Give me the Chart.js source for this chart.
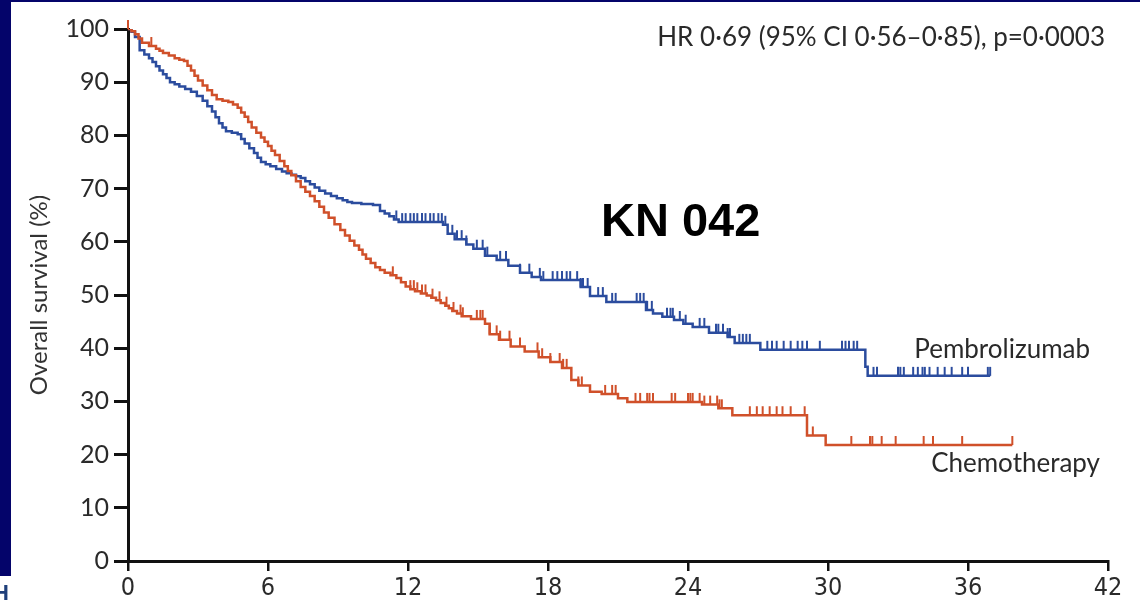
<!DOCTYPE html>
<html>
<head>
<meta charset="utf-8">
<script src="https://cdn.jsdelivr.net/npm/chart.js@4.4.1/dist/chart.umd.min.js"></script>
<style>
  html, body { margin: 0; padding: 0; background: #fff; }
  #wrap { width: 1140px; height: 613px; position: relative; }
</style>
</head>
<body>
<div id="wrap"><canvas id="kmChart"></canvas></div>
<script>
// Kaplan-Meier steps, months vs overall survival (%)
const pembroMonths = [0, 0.15, 0.3, 0.5, 0.7, 0.9, 1.05, 1.2, 1.35, 1.5, 1.65, 1.8, 2.0, 2.2, 2.45, 2.7, 2.95, 3.2, 3.4, 3.6, 3.75, 3.9, 4.05, 4.2, 4.45, 4.7, 4.85, 5.0, 5.2, 5.4, 5.55, 5.7, 5.9, 6.1, 6.35, 6.6, 6.8, 7.0, 7.2, 7.4, 7.6, 7.8, 8.0, 8.2, 8.45, 8.7, 8.95, 9.2, 9.4, 9.6, 10.0, 10.5, 10.8, 11.0, 11.2, 11.4, 11.6, 13.5, 13.7, 14.0, 14.5, 14.8, 15.3, 15.8, 16.3, 16.8, 17.3, 17.7, 19.4, 19.8, 20.5, 22.2, 22.5, 22.9, 23.4, 23.8, 24.2, 24.9, 25.7, 26.0, 27.1, 31.6, 31.7, 36.95];
const pembroSurv   = [100, 99.5, 98.5, 96, 95.2, 94.5, 93.8, 93, 92.2, 91.5, 90.8, 90, 89.6, 89.2, 88.7, 88.2, 87.4, 86.5, 85.5, 84.5, 83.4, 82.3, 81.5, 80.8, 80.5, 80.2, 79.3, 78.5, 77.6, 76.7, 75.8, 75, 74.6, 74.2, 73.7, 73.2, 72.9, 72.6, 72.3, 72.0, 71.4, 70.8, 70.2, 69.6, 69.1, 68.6, 68.2, 67.8, 67.5, 67.3, 67.1, 66.9, 65.8, 65.3, 64.8, 64.2, 63.7, 63.2, 61.5, 60.5, 59.5, 58.7, 57.4, 56.6, 55.5, 54.2, 53.4, 52.8, 51.5, 49.8, 48.7, 47.2, 46.5, 45.9, 45.3, 44.6, 44.0, 42.9, 42.1, 41.0, 39.7, 36.5, 34.8, 34.8];

const chemoMonths = [0, 0.15, 0.3, 0.45, 0.6, 0.9, 1.2, 1.35, 1.5, 1.75, 2.0, 2.2, 2.4, 2.55, 2.7, 2.85, 3.0, 3.2, 3.4, 3.6, 3.8, 4.05, 4.3, 4.5, 4.7, 4.85, 5.0, 5.15, 5.3, 5.5, 5.7, 5.85, 6.0, 6.15, 6.3, 6.5, 6.7, 6.85, 7.0, 7.2, 7.4, 7.6, 7.8, 8.0, 8.2, 8.4, 8.6, 8.85, 9.1, 9.3, 9.5, 9.7, 9.9, 10.05, 10.2, 10.4, 10.6, 10.8, 11.0, 11.25, 11.5, 11.7, 11.9, 12.1, 12.3, 12.55, 12.8, 13.0, 13.2, 13.4, 13.6, 13.75, 13.9, 14.1, 14.3, 14.7, 15.3, 15.5, 15.9, 16.4, 17.0, 17.6, 18.1, 18.6, 19.0, 19.3, 19.8, 20.3, 21.0, 21.4, 24.6, 25.3, 25.9, 29.1, 29.9, 37.9];
const chemoSurv   = [100, 99.6, 99, 98.2, 97.4, 96.8, 96.3, 95.9, 95.5, 95.0, 94.5, 94.2, 94.0, 93.1, 92.2, 91.2, 90.3, 89.4, 88.5, 87.6, 86.8, 86.5, 86.3, 85.8, 85.2, 84.3, 83.5, 82.5, 81.5, 80.5, 79.6, 78.8, 78, 77.1, 76.3, 75.2, 74.2, 73.3, 72.5, 71.4, 70.3, 69.4, 68.6, 67.6, 66.6, 65.5, 64.5, 63.3, 62.2, 61.2, 60.2, 59.3, 58.5, 57.6, 56.8, 56, 55.2, 54.7, 54.2, 53.7, 53.2, 52.4, 51.6, 51.1, 50.7, 50.3, 49.9, 49.5, 49.0, 48.5, 48.0, 47.5, 47.0, 46.5, 46.0, 45.5, 44.6, 42.6, 41.6, 40.3, 39.4, 38.3, 37.4, 36.3, 34.0, 33.0, 31.8, 31.4, 30.6, 29.9, 29.4, 28.7, 27.4, 23.6, 21.8, 21.8];

// censored patients (months)
const pembroCensor = [11.5, 11.75, 11.9, 12.1, 12.25, 12.4, 12.6, 12.75, 12.95, 13.1, 13.3, 13.45, 13.6, 13.9, 14.1, 14.3, 14.5, 14.95, 15.2, 15.4, 15.95, 16.2, 16.8, 17.2, 17.65, 17.8, 18.2, 18.4, 18.6, 18.8, 18.95, 19.25, 19.4, 19.5, 19.7, 20.15, 20.35, 20.75, 20.9, 21.8, 21.95, 22.1, 22.25, 22.45, 23.1, 23.25, 23.35, 23.65, 23.9, 24.5, 24.7, 25.2, 25.3, 25.5, 25.7, 25.8, 26.2, 26.35, 26.5, 26.65, 27.4, 27.6, 27.8, 28.1, 28.4, 28.7, 28.9, 29.1, 29.65, 30.6, 30.75, 30.9, 31.1, 31.25, 31.95, 32.1, 33.0, 33.1, 33.25, 33.65, 33.85, 34.05, 34.15, 34.35, 34.7, 35.0, 35.3, 35.75, 36.0, 36.85, 36.95];
const chemoCensor = [0, 1.0, 11.35, 12.1, 12.25, 12.4, 12.6, 12.75, 13.05, 13.35, 13.65, 13.95, 14.25, 14.35, 14.95, 15.1, 15.2, 15.5, 15.8, 15.95, 16.35, 16.8, 17.55, 17.75, 18.1, 18.5, 18.65, 18.8, 19.3, 19.45, 20.45, 20.75, 20.9, 21.75, 21.95, 22.25, 22.35, 22.5, 23.3, 23.45, 24.0, 24.1, 24.2, 24.5, 24.7, 24.95, 25.25, 25.35, 25.45, 26.65, 26.95, 27.2, 27.5, 27.8, 28.05, 28.4, 29.0, 29.35, 31.0, 31.8, 31.9, 32.3, 32.9, 34.1, 34.5, 35.75, 37.9];

const xTickValues = [0, 6, 12, 18, 24, 30, 36, 42];
const yTickValues = [0, 10, 20, 30, 40, 50, 60, 70, 80, 90, 100];

const pembroColor = '#2b4c9e';
const chemoColor = '#d0502a';
const inkColor = '#2a2a2a';

function toPoints(months, surv) {
    return months.map((m, i) => ({ x: m, y: surv[i] }));
}

function survivalAt(months, surv, t) {
    let v = surv[0];
    for (let i = 0; i < months.length; i++) {
        if (months[i] <= t) v = surv[i];
    }
    return v;
}

function censorPoints(times, months, surv) {
    return times.map(t => ({ x: t, y: survivalAt(months, surv, t) }));
}

const annotations = {
    id: 'annotations',
    beforeDraw(chart) {
        const ctx = chart.ctx;
        ctx.save();
        ctx.fillStyle = '#04046a';
        ctx.fillRect(0, 0, 11, 576);
        ctx.fillRect(0, 0, chart.width, 2);
        ctx.fillStyle = '#1f3f7a';
        ctx.font = 'bold 22px "Liberation Sans"';
        ctx.textBaseline = 'alphabetic';
        ctx.fillText('H', -7, 600);
        ctx.restore();
    },
    afterDraw(chart) {
        const ctx = chart.ctx;
        ctx.save();
        ctx.fillStyle = inkColor;
        ctx.textBaseline = 'middle';
        ctx.font = '26px Lato';
        ctx.textAlign = 'right';
        ctx.fillText('HR 0·69 (95% CI 0·56–0·85), p=0·0003', 1105, 38);
        ctx.fillText('Pembrolizumab', 1090, 350);
        ctx.fillText('Chemotherapy', 1100, 464);
        ctx.fillStyle = '#000';
        ctx.font = 'bold 47px "Liberation Sans"';
        ctx.textAlign = 'left';
        ctx.textBaseline = 'alphabetic';
        ctx.fillText('KN 042', 601, 236);
        ctx.restore();
    }
};

new Chart(document.getElementById('kmChart').getContext('2d'), {
    type: 'line',
    data: {
        datasets: [{
            label: 'Chemotherapy',
            data: toPoints(chemoMonths, chemoSurv),
            borderColor: chemoColor,
            borderWidth: 2.5,
            stepped: 'before',
            pointRadius: 0,
            fill: false,
        }, {
            label: 'Pembrolizumab',
            data: toPoints(pembroMonths, pembroSurv),
            borderColor: pembroColor,
            borderWidth: 2.5,
            stepped: 'before',
            pointRadius: 0,
            fill: false,
        }, {
            type: 'scatter',
            label: 'Chemotherapy censored',
            data: censorPoints(chemoCensor, chemoMonths, chemoSurv),
            pointStyle: 'dash',
            pointRotation: -90,
            pointRadius: 9,
            borderColor: chemoColor,
            pointBorderWidth: 2,
            clip: false,
        }, {
            type: 'scatter',
            label: 'Pembrolizumab censored',
            data: censorPoints(pembroCensor, pembroMonths, pembroSurv),
            pointStyle: 'dash',
            pointRotation: -90,
            pointRadius: 9,
            borderColor: pembroColor,
            pointBorderWidth: 2,
            clip: false,
        }],
    },
    options: {
        responsive: true,
        maintainAspectRatio: false,
        animation: false,
        events: [],
        layout: {
            padding: { left: 10, top: 29, right: 32, bottom: 0 }
        },
        plugins: {
            legend: { display: false },
            tooltip: { enabled: false },
        },
        scales: {
            x: {
                type: 'linear',
                min: 0,
                max: 42,
                afterBuildTicks: s => { s.ticks = xTickValues.map(v => ({ value: v })); },
                afterFit: s => { s.height = 52; },
                grid: { drawOnChartArea: false, drawTicks: true, tickLength: 10, color: '#111', lineWidth: 2.5 },
                border: { display: true, color: '#111', width: 3 },
                ticks: {
                    color: inkColor,
                    padding: 2,
                    maxRotation: 0,
                    font: { family: '"Liberation Sans Narrow", "DejaVu Sans Condensed", sans-serif', size: 25 },
                },
            },
            y: {
                min: 0,
                max: 100,
                afterBuildTicks: s => { s.ticks = yTickValues.map(v => ({ value: v })); },
                afterFit: s => { s.width = 118; },
                grid: { drawOnChartArea: false, drawTicks: true, tickLength: 14, color: '#111', lineWidth: 3 },
                border: { display: true, color: '#111', width: 3 },
                title: {
                    display: true,
                    text: 'Overall survival (%)',
                    color: '#333',
                    padding: { top: 15, bottom: 0 },
                    font: { family: 'Lato', size: 24 },
                },
                ticks: {
                    color: inkColor,
                    padding: 5,
                    font: { family: 'Lato', size: 25 },
                },
            },
        },
    },
    plugins: [annotations],
});
</script>
</body>
</html>
